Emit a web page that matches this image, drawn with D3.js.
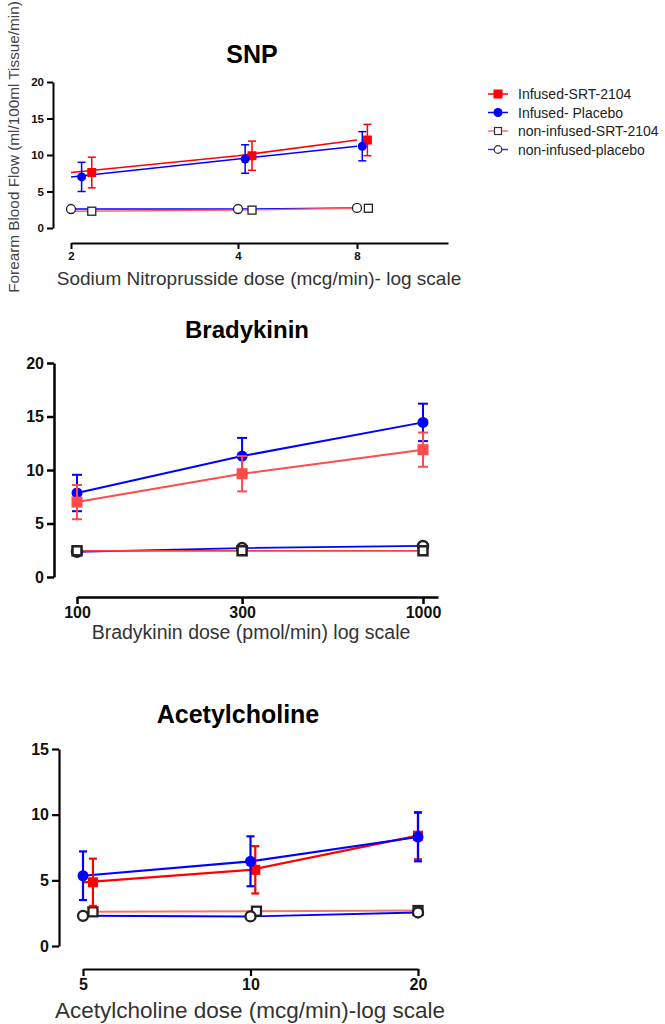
<!DOCTYPE html>
<html lang="en">
<head>
<meta charset="utf-8">
<title>Forearm Blood Flow</title>
<script src="https://d3js.org/d3.v7.min.js"></script>
<style>
  body { margin: 0; background: #fff; }
  text { font-family: "Liberation Sans", Arial, sans-serif; }
</style>
</head>
<body>
<div id="chart"></div>
<script>
// ---- data ----
const seriesNames = ["Infused-SRT-2104", "Infused- Placebo", "non-infused-SRT-2104", "non-infused-placebo"];
const yLabel = "Forearm Blood Flow (ml/100ml Tissue/min)";

// SNP
const snpDoses = [2, 4, 8];
const snpSrt = [7.6, 9.9, 12.05];
const snpSrtErr = [2.1, 2.0, 2.15];
const snpSrtDose = [2.18, 4.34, 8.5];
const snpPlacebo = [7.0, 9.45, 11.2];
const snpPlaceboErr = [2.0, 1.95, 2.0];
const snpPlaceboDose = [2.09, 4.17, 8.25];
const snpNonSrt = [2.3, 2.45, 2.7];
const snpNonSrtDose = [2.18, 4.34, 8.55];
const snpNonPlacebo = [2.6, 2.6, 2.75];

// Bradykinin
const brkDoses = [100, 300, 1000];
const brkSrt = [7.0, 9.65, 11.9];
const brkSrtErr = [1.6, 1.65, 1.6];
const brkPlacebo = [7.85, 11.3, 14.45];
const brkPlaceboErr = [1.7, 1.7, 1.75];
const brkNonSrt = [2.45, 2.45, 2.45];
const brkNonPlacebo = [2.35, 2.7, 2.9];

// Acetylcholine
const achDoses = [5, 10, 20];
const achSrt = [4.85, 5.8, 8.4];
const achSrtErr = [1.8, 1.8, 1.8];
const achSrtDose = [5.21, 10.2, 20];
const achPlacebo = [5.35, 6.45, 8.3];
const achPlaceboErr = [1.85, 1.9, 1.85];
const achNonSrt = [2.6, 2.65, 2.7];
const achNonSrtDose = [5.21, 10.25, 20];
const achNonPlacebo = [2.3, 2.25, 2.55];

const yTicks20 = [0, 5, 10, 15, 20];
const yTicks15 = [0, 5, 10, 15];

// ---- layout ----
const svg = d3.select("#chart").append("svg")
  .attr("width", 665).attr("height", 1024);

const panels = [
  {
    title: "SNP", titleX: 252, titleY: 63, titleSize: 25,
    xLabel: "Sodium Nitroprusside dose (mcg/min)- log scale", xLabelX: 259, xLabelY: 285, xLabelSize: 19,
    doses: snpDoses, xDomain: [2, 4, 8, 13.6], xRange: [71, 238, 357, 448], xAxisY: 243,
    yDomain: [0, 20], yRange: [228, 82], yTicks: yTicks20, yAxisX: 53,
    tickSize: 11.5, tickLen: 6, axisW: 2, lineW: 1.5, openW: 1.3, sq: 9, r: 4.5, osq: 8, or: 4.5, cap: 8,
    red: "#ff0000", blue: "#0000ff", pink: "#ff6060",
    series: [
      { vals: snpNonPlacebo, dose: snpDoses, kind: "ocircle", line: "blue" },
      { vals: snpNonSrt, dose: snpNonSrtDose, kind: "osquare", line: "pink" },
      { vals: snpSrt, err: snpSrtErr, dose: snpSrtDose, kind: "square", line: "red" },
      { vals: snpPlacebo, err: snpPlaceboErr, dose: snpPlaceboDose, kind: "circle", line: "blue" }
    ]
  },
  {
    title: "Bradykinin", titleX: 247, titleY: 338, titleSize: 24,
    xLabel: "Bradykinin dose (pmol/min) log scale", xLabelX: 251, xLabelY: 639, xLabelSize: 19.5,
    doses: brkDoses, xDomain: [100, 1105], xRange: [77, 438], xAxisY: 597,
    yDomain: [0, 20], yRange: [577, 363], yTicks: yTicks20, yAxisX: 54,
    tickSize: 16, tickLen: 7, axisW: 2.5, lineW: 2, openW: 2.5, sq: 11, r: 5.5, osq: 9, or: 5, cap: 10,
    red: "#ff4b4b", blue: "#0000ff", pink: "#ff3b3b",
    series: [
      { vals: brkNonPlacebo, dose: brkDoses, kind: "ocircle", line: "blue" },
      { vals: brkNonSrt, dose: brkDoses, kind: "osquare", line: "pink" },
      { vals: brkPlacebo, err: brkPlaceboErr, dose: brkDoses, kind: "circle", line: "blue" },
      { vals: brkSrt, err: brkSrtErr, dose: brkDoses, kind: "square", line: "red" }
    ]
  },
  {
    title: "Acetylcholine", titleX: 238, titleY: 723, titleSize: 25,
    xLabel: "Acetylcholine dose (mcg/min)-log scale", xLabelX: 250, xLabelY: 1018, xLabelSize: 22.5,
    doses: achDoses, xDomain: [5, 20], xRange: [83, 418], xAxisY: 969,
    yDomain: [0, 15], yRange: [946, 749], yTicks: yTicks15, yAxisX: 59,
    tickSize: 16, tickLen: 7, axisW: 2.2, lineW: 2.2, openW: 2.3, sq: 10, r: 5.5, osq: 9, or: 5, cap: 8,
    red: "#ff0000", blue: "#0000ff", pink: "#ff7070",
    series: [
      { vals: achNonSrt, dose: achNonSrtDose, kind: "osquare", line: "pink" },
      { vals: achNonPlacebo, dose: achDoses, kind: "ocircle", line: "blue" },
      { vals: achSrt, err: achSrtErr, dose: achSrtDose, kind: "square", line: "red" },
      { vals: achPlacebo, err: achPlaceboErr, dose: achDoses, kind: "circle", line: "blue" }
    ]
  }
];

function drawPanel(p) {
  const g = svg.append("g");
  const x = d3.scaleLog().domain(p.xDomain).range(p.xRange);
  const y = d3.scaleLinear().domain(p.yDomain).range(p.yRange);

  // title
  g.append("text")
    .attr("x", p.titleX).attr("y", p.titleY)
    .attr("text-anchor", "middle")
    .style("font-size", p.titleSize + "px").style("font-weight", "bold")
    .text(p.title);

  // y axis
  const ya = g.append("g")
    .attr("transform", `translate(${p.yAxisX},0)`)
    .call(d3.axisLeft(y).tickValues(p.yTicks).tickSize(p.tickLen).tickSizeOuter(0).tickPadding(3));
  // x axis
  const xa = g.append("g")
    .attr("transform", `translate(0,${p.xAxisY})`)
    .call(d3.axisBottom(x).tickValues(p.doses).tickFormat(d3.format("d")).tickSize(p.tickLen).tickSizeOuter(0).tickPadding(3));
  [ya, xa].forEach(a => {
    a.select(".domain").attr("stroke", "#000").attr("stroke-width", p.axisW);
    a.selectAll(".tick line").attr("stroke", "#000").attr("stroke-width", p.axisW);
    a.selectAll(".tick text")
      .attr("fill", "#111")
      .style("font-size", p.tickSize + "px").style("font-weight", "bold")
      .style("font-family", "'Liberation Sans', Arial, sans-serif");
  });

  // x label
  g.append("text")
    .attr("x", p.xLabelX).attr("y", p.xLabelY)
    .attr("text-anchor", "middle").attr("fill", "#333")
    .style("font-size", p.xLabelSize + "px")
    .text(p.xLabel);

  const line = d3.line().x((d, i) => x(p.doses[i])).y(d => y(d));

  p.series.forEach(s => {
    const col = p[s.line];
    g.append("path")
      .attr("d", line(s.vals))
      .attr("fill", "none").attr("stroke", col)
      .attr("stroke-width", s.kind.startsWith("o") ? p.lineW * 0.9 : p.lineW);
  });

  p.series.forEach(s => {
    const col = p[s.line];
    const pts = s.vals.map((v, i) => ({ v, e: s.err ? s.err[i] : 0, d: s.dose[i] }));
    if (s.err) {
      const eb = g.append("g").attr("stroke", col).attr("stroke-width", p.lineW);
      pts.forEach(pt => {
        const cx = x(pt.d), y1 = y(pt.v + pt.e), y2 = y(pt.v - pt.e);
        eb.append("line").attr("x1", cx).attr("x2", cx).attr("y1", y1).attr("y2", y2);
        eb.append("line").attr("x1", cx - p.cap / 2).attr("x2", cx + p.cap / 2).attr("y1", y1).attr("y2", y1);
        eb.append("line").attr("x1", cx - p.cap / 2).attr("x2", cx + p.cap / 2).attr("y1", y2).attr("y2", y2);
      });
    }
    const mk = g.append("g");
    pts.forEach(pt => {
      const cx = x(pt.d), cy = y(pt.v);
      if (s.kind === "square") {
        mk.append("rect").attr("x", cx - p.sq / 2).attr("y", cy - p.sq / 2)
          .attr("width", p.sq).attr("height", p.sq).attr("fill", col);
      } else if (s.kind === "circle") {
        mk.append("circle").attr("cx", cx).attr("cy", cy).attr("r", p.r).attr("fill", col);
      } else if (s.kind === "osquare") {
        mk.append("rect").attr("x", cx - p.osq / 2).attr("y", cy - p.osq / 2)
          .attr("width", p.osq).attr("height", p.osq)
          .attr("fill", "#fff").attr("stroke", "#222").attr("stroke-width", p.openW);
      } else {
        mk.append("circle").attr("cx", cx).attr("cy", cy).attr("r", p.or)
          .attr("fill", "#fff").attr("stroke", "#222").attr("stroke-width", p.openW);
      }
    });
  });
}

panels.forEach(drawPanel);

// shared y label
svg.append("text")
  .attr("transform", "translate(19,147) rotate(-90)")
  .attr("text-anchor", "middle").attr("fill", "#444")
  .style("font-size", "15.3px")
  .text(yLabel);

// legend
const legend = svg.append("g").attr("transform", "translate(488,94)");
const legKinds = [
  { kind: "square", line: "#ff0000" },
  { kind: "circle", line: "#0000ff" },
  { kind: "osquare", line: "#ff7070" },
  { kind: "ocircle", line: "#3030ff" }
];
seriesNames.forEach((name, i) => {
  const row = legend.append("g").attr("transform", `translate(0,${i * 18.5})`);
  const k = legKinds[i];
  row.append("line").attr("x1", 0).attr("x2", 20).attr("y1", 0).attr("y2", 0)
    .attr("stroke", k.line).attr("stroke-width", 1.5);
  if (k.kind === "square") row.append("rect").attr("x", 5.5).attr("y", -4.5).attr("width", 9).attr("height", 9).attr("fill", k.line);
  if (k.kind === "circle") row.append("circle").attr("cx", 10).attr("cy", 0).attr("r", 4.5).attr("fill", k.line);
  if (k.kind === "osquare") row.append("rect").attr("x", 6.5).attr("y", -3.5).attr("width", 7).attr("height", 7)
    .attr("fill", "#fff").attr("stroke", "#333").attr("stroke-width", 1.2);
  if (k.kind === "ocircle") row.append("circle").attr("cx", 10).attr("cy", 0).attr("r", 3.8)
    .attr("fill", "#fff").attr("stroke", "#333").attr("stroke-width", 1.2);
  row.append("text").attr("x", 30).attr("y", 5).attr("fill", "#222")
    .style("font-size", "14px").text(name);
});
</script>
</body>
</html>
